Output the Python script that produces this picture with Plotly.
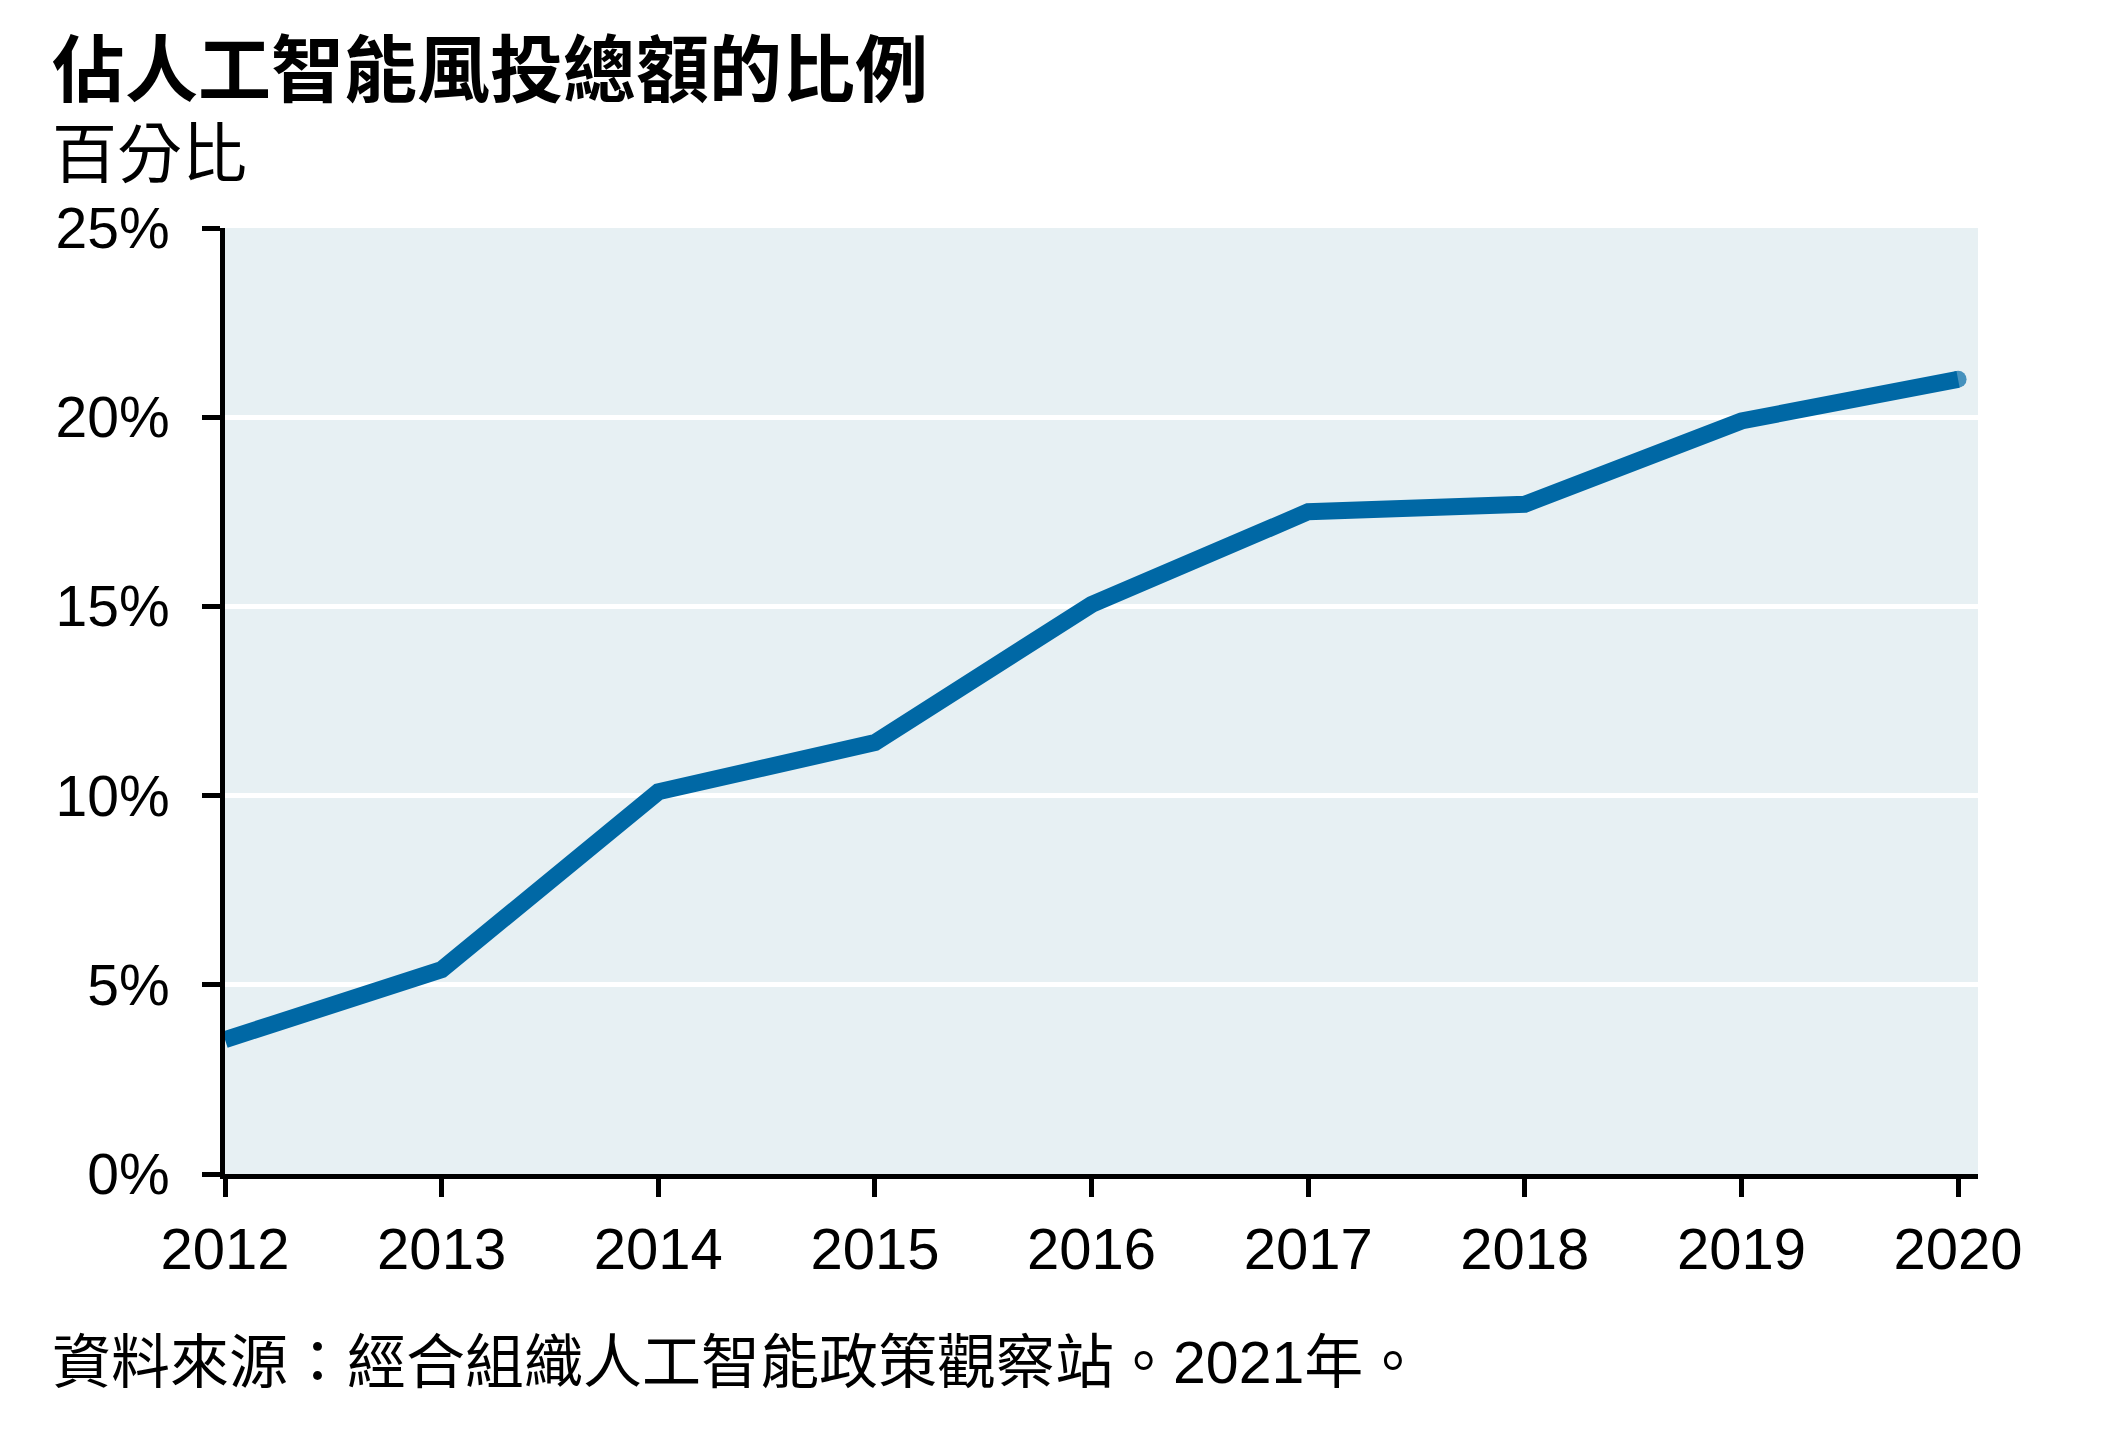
import plotly.graph_objects as go

years = [2012, 2013, 2014, 2015, 2016, 2017, 2018, 2019, 2020]
share_pct = [3.55, 5.4, 10.1, 11.4, 15.05, 17.5, 17.7, 19.9, 21.0]
y_ticks = [0, 5, 10, 15, 20, 25]
y_tick_labels = ["0%", "5%", "10%", "15%", "20%", "25%"]

title_text = "佔人工智能風投總額的比例"
subtitle_text = "百分比"
source_text = "資料來源：經合組織人工智能政策觀察站。2021年。"

W, H = 2116, 1430
OFF = 8  # page body margin offset
ML, MR, MT, MB = 225 - OFF, 138 + OFF, 228 - OFF, 256 + OFF
PW, PH = W - ML - MR, H - MT - MB

def px_x(px):
    return (px - OFF - ML) / PW

def px_y(py):
    return (H - MB - (py - OFF)) / PH

FONT = "Liberation Sans, Arial, Noto Sans CJK TC, sans-serif"
CJK = "Liberation Sans, Noto Sans CJK TC, sans-serif"
LINE_W = 17
LINE_C = "#0068A5"

# round cap only at the final point
cap_sizes = [0] * (len(years) - 1) + [LINE_W]

fig = go.Figure()
fig.add_trace(go.Scatter(
    x=years, y=share_pct, mode="lines+markers",
    line=dict(color=LINE_C, width=LINE_W),
    marker=dict(size=cap_sizes, color=LINE_C, line=dict(width=0)),
    hoverinfo="skip", showlegend=False,
))

fig.update_layout(
    width=W, height=H,
    margin=dict(l=ML, r=MR, t=MT, b=MB, pad=0),
    paper_bgcolor="white",
    plot_bgcolor="#E7F0F3",
    font=dict(family=FONT, size=56, color="black"),
    showlegend=False,
    xaxis=dict(
        range=[2012, 2020.092],
        tickmode="array", tickvals=years, ticktext=[str(y) for y in years],
        showgrid=False, zeroline=False,
        showline=True, linecolor="black", linewidth=5,
        ticks="outside", ticklen=18, tickwidth=5, tickcolor="black",
        tickfont=dict(family=FONT, size=58, color="black"),
        ticklabelstandoff=2,
    ),
    yaxis=dict(
        range=[0, 25],
        tickmode="array", tickvals=y_ticks, ticktext=y_tick_labels,
        showgrid=True, gridcolor="white", gridwidth=5,
        zeroline=False,
        showline=True, linecolor="black", linewidth=5,
        ticks="outside", ticklen=18, tickwidth=5, tickcolor="black",
        tickfont=dict(family=FONT, size=57, color="black"),
        ticklabelstandoff=21,
    ),
    annotations=[
        dict(text="<b>" + title_text + "</b>", xref="paper", yref="paper",
             x=px_x(50), y=px_y(70), xanchor="left", yanchor="middle",
             showarrow=False, font=dict(family=CJK, size=73, color="black")),
        dict(text=subtitle_text, xref="paper", yref="paper",
             x=px_x(50), y=px_y(155), xanchor="left", yanchor="middle",
             showarrow=False, font=dict(family=CJK, size=65, color="black")),
        dict(text=source_text, xref="paper", yref="paper",
             x=px_x(50), y=px_y(1363), xanchor="left", yanchor="middle",
             showarrow=False, font=dict(family=CJK, size=59, color="black")),
    ],
)

fig.write_html("out.html")
